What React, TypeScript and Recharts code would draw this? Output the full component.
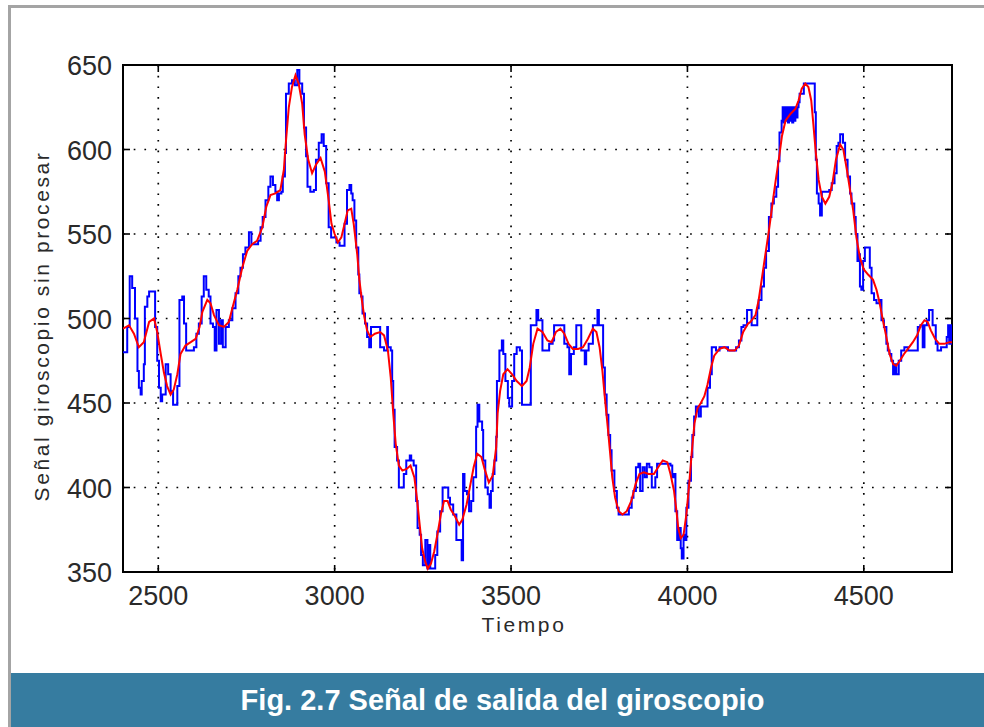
import React from "react";
import {
  LineChart,
  Line,
  XAxis,
  YAxis,
  CartesianGrid,
  ReferenceArea,
} from "recharts";

// Raw gyroscope reading (quantised, drawn as a staircase)
const rawTime = [
  2400, 2412, 2419, 2426, 2434, 2441, 2445, 2450, 2453, 2459, 2462, 2469, 2474, 2491, 2497, 2502,
  2507, 2511, 2521, 2528, 2535, 2542, 2554, 2560, 2568, 2573, 2579, 2601, 2608, 2615, 2623, 2629,
  2636, 2643, 2648, 2655, 2660, 2665, 2672, 2678, 2683, 2691, 2700, 2710, 2719, 2727, 2733, 2740,
  2747, 2757, 2764, 2783, 2790, 2796, 2804, 2812, 2818, 2825, 2832, 2837, 2842, 2849, 2853, 2859,
  2862, 2870, 2879, 2887, 2894, 2900, 2908, 2913, 2919, 2923, 2931, 2941, 2947, 2955, 2963, 2969,
  2976, 2983, 2990, 3005, 3014, 3028, 3035, 3042, 3047, 3051, 3056, 3061, 3067, 3070, 3075, 3079,
  3086, 3092, 3098, 3103, 3121, 3129, 3140, 3149, 3151, 3159, 3163, 3166, 3170, 3177, 3182, 3196,
  3203, 3213, 3217, 3224, 3231, 3235, 3241, 3245, 3250, 3257, 3263, 3267, 3271, 3285, 3291, 3299,
  3306, 3322, 3327, 3336, 3345, 3360, 3364, 3368, 3375, 3381, 3387, 3393, 3401, 3405, 3410, 3418,
  3421, 3427, 3434, 3439, 3443, 3448, 3453, 3458, 3460, 3467, 3474, 3478, 3484, 3491, 3495, 3503,
  3509, 3516, 3525, 3531, 3556, 3572, 3577, 3589, 3608, 3618, 3622, 3651, 3660, 3665, 3670, 3678,
  3685, 3699, 3709, 3713, 3720, 3732, 3745, 3749, 3761, 3766, 3771, 3776, 3781, 3785, 3793, 3800,
  3805, 3834, 3842, 3847, 3854, 3861, 3866, 3873, 3879, 3885, 3892, 3899, 3909, 3914, 3952, 3957,
  3961, 3966, 3971, 3976, 3981, 3984, 3989, 3993, 3997, 4003, 4010, 4014, 4019, 4024, 4032, 4038,
  4057, 4064, 4069, 4081, 4091, 4115, 4138, 4146, 4153, 4159, 4169, 4182, 4198, 4202, 4210, 4217,
  4223, 4231, 4238, 4245, 4252, 4257, 4261, 4267, 4270, 4273, 4276, 4279, 4282, 4285, 4288, 4291,
  4294, 4297, 4300, 4303, 4306, 4309, 4312, 4315, 4318, 4330, 4361, 4364, 4367, 4372, 4376, 4381,
  4402, 4409, 4417, 4423, 4428, 4433, 4441, 4447, 4454, 4461, 4465, 4473, 4477, 4482, 4486, 4489,
  4493, 4498, 4503, 4517, 4522, 4529, 4536, 4545, 4550, 4557, 4564, 4568, 4573, 4578, 4583, 4587,
  4592, 4599, 4606, 4615, 4625, 4653, 4660, 4667, 4672, 4679, 4685, 4695, 4704, 4709, 4719, 4735,
  4739, 4742, 4745, 4748, 4750,
];
const rawValue = [
  480, 495, 525, 518, 500, 469, 459, 455, 463, 473, 507, 513, 516, 495, 475, 459,
  451, 455, 473, 467, 457, 449, 460, 511, 513, 497, 481, 483, 491, 497, 513, 525,
  517, 513, 497, 495, 481, 505, 485, 499, 483, 495, 499, 506, 515, 525, 530, 538,
  542, 551, 544, 546, 554, 560, 570, 578, 584, 579, 575, 570, 574, 575, 584, 598,
  633, 639, 641, 638, 647, 639, 633, 613, 596, 578, 575, 576, 594, 604, 609, 602,
  580, 554, 548, 545, 543, 556, 576, 579, 574, 570, 558, 542, 526, 515, 513, 503,
  497, 489, 483, 495, 495, 483, 481, 495, 483, 481, 463, 446, 424, 416, 400, 408,
  416, 419, 416, 413, 392, 376, 372, 360, 354, 369, 352, 366, 352, 360, 374, 386,
  400, 394, 390, 384, 369, 357, 408, 398, 396, 386, 392, 406, 436, 449, 439, 434,
  416, 400, 396, 388, 398, 408, 416, 430, 463, 481, 487, 479, 463, 453, 448, 463,
  479, 483, 481, 449, 496, 505, 499, 481, 485, 487, 496, 485, 483, 467, 479, 483,
  496, 481, 473, 481, 485, 496, 505, 496, 471, 455, 443, 431, 422, 410, 398, 388,
  384, 388, 394, 398, 412, 414, 398, 412, 406, 414, 412, 400, 406, 414, 413, 406,
  408, 386, 369, 376, 364, 358, 372, 369, 388, 404, 418, 431, 442, 448, 442, 448,
  459, 467, 483, 481, 483, 481, 483, 487, 495, 496, 505, 496, 506, 511, 519, 530,
  540, 560, 568, 572, 578, 593, 610, 617, 625, 616, 625, 617, 625, 616, 625, 617,
  625, 616, 625, 617, 625, 619, 625, 628, 633, 639, 622, 594, 574, 568, 561, 575,
  576, 580, 586, 602, 604, 609, 604, 594, 584, 574, 568, 560, 550, 534, 538, 519,
  517, 534, 542, 530, 515, 511, 509, 511, 499, 495, 485, 481, 479, 475, 467, 473,
  467, 475, 481, 483, 481, 495, 496, 483, 496, 499, 505, 496, 485, 481, 483, 489,
  496, 485, 496, 485, 495,
];

// Filtered signal
const filtTime = [
  2400, 2417, 2431, 2445, 2459, 2474, 2488, 2497, 2507, 2516, 2525, 2535, 2544, 2554, 2563, 2577,
  2592, 2606, 2617, 2625, 2639, 2648, 2658, 2672, 2686, 2700, 2710, 2724, 2738, 2752, 2766, 2780,
  2795, 2806, 2818, 2832, 2846, 2856, 2862, 2870, 2879, 2889, 2898, 2908, 2915, 2925, 2936, 2947,
  2960, 2972, 2983, 2991, 3000, 3009, 3019, 3028, 3037, 3047, 3054, 3064, 3070, 3077, 3084, 3092,
  3101, 3114, 3129, 3140, 3151, 3159, 3166, 3173, 3182, 3192, 3204, 3215, 3226, 3233, 3241, 3248,
  3257, 3264, 3273, 3282, 3292, 3301, 3310, 3320, 3329, 3341, 3353, 3362, 3374, 3385, 3394, 3404,
  3416, 3425, 3437, 3448, 3458, 3462, 3469, 3478, 3490, 3503, 3516, 3531, 3544, 3553, 3563, 3575,
  3589, 3603, 3615, 3627, 3640, 3651, 3663, 3675, 3690, 3704, 3718, 3732, 3742, 3751, 3759, 3766,
  3774, 3781, 3787, 3795, 3805, 3816, 3828, 3841, 3853, 3864, 3876, 3890, 3905, 3917, 3930, 3943,
  3952, 3962, 3969, 3974, 3981, 3989, 3997, 4005, 4012, 4020, 4029, 4038, 4048, 4057, 4067, 4076,
  4091, 4105, 4119, 4134, 4146, 4158, 4172, 4179, 4193, 4202, 4212, 4221, 4231, 4240, 4249, 4259,
  4268, 4278, 4292, 4306, 4315, 4324, 4334, 4343, 4351, 4357, 4364, 4372, 4381, 4391, 4402, 4411,
  4421, 4433, 4442, 4452, 4461, 4470, 4479, 4489, 4500, 4512, 4526, 4536, 4545, 4554, 4564, 4573,
  4583, 4592, 4602, 4614, 4625, 4639, 4651, 4662, 4672, 4681, 4690, 4702, 4714, 4728, 4743, 4750,
];
const filtValue = [
  494, 496, 491, 483, 486, 498, 500, 492, 479, 468, 460, 455, 458, 467, 479, 484,
  486, 488, 495, 504, 511, 509, 502, 496, 495, 498, 506, 517, 530, 540, 544, 546,
  554, 566, 573, 574, 576, 588, 605, 625, 637, 644, 639, 627, 609, 594, 586, 591,
  595, 587, 570, 556, 550, 545, 548, 556, 564, 565, 556, 538, 523, 511, 501, 493,
  489, 491, 492, 490, 481, 465, 444, 426, 413, 410, 411, 413, 406, 394, 378, 364,
  356, 352, 355, 362, 373, 384, 392, 392, 387, 383, 378, 381, 390, 402, 412, 420,
  418, 411, 403, 407, 424, 444, 457, 467, 470, 467, 463, 460, 463, 471, 485, 494,
  492, 487, 486, 492, 494, 491, 485, 482, 482, 483, 488, 494, 492, 483, 469, 453,
  436, 420, 406, 394, 386, 384, 386, 392, 402, 408, 409, 408, 408, 412, 416, 415,
  408, 398, 386, 376, 370, 372, 384, 402, 420, 438, 447, 450, 454, 461, 471, 478,
  482, 483, 481, 481, 484, 492, 497, 498, 502, 511, 525, 538, 552, 566, 580, 594,
  608, 617, 621, 624, 629, 636, 639, 637, 629, 615, 598, 582, 572, 568, 572, 580,
  594, 603, 600, 588, 576, 564, 548, 536, 529, 526, 523, 517, 509, 499, 489, 479,
  473, 472, 475, 479, 482, 486, 490, 496, 499, 498, 493, 488, 485, 485, 486, 486,
];

const timeTicks = [2500, 3000, 3500, 4000, 4500];
const signalTicks = [350, 400, 450, 500, 550, 600, 650];

const rawSeries = rawTime.map((t, i) => ({ t, v: rawValue[i] }));
const filtSeries = filtTime.map((t, i) => ({ t, v: filtValue[i] }));

const W = 984;
const H = 672;
const X_AXIS_H = 40;
const Y_AXIS_W = 60;
const PLOT_TOP = 65;
const PLOT_BOTTOM = 572;
const PLOT_LEFT = 123;
const PLOT_RIGHT = 952;
const M = {
  top: PLOT_TOP,
  right: W - PLOT_RIGHT,
  bottom: H - PLOT_BOTTOM - X_AXIS_H,
  left: PLOT_LEFT - Y_AXIS_W,
};
const TICK_LEN = 7;
const FONT = "'Liberation Sans', Arial, Helvetica, sans-serif";
const TEXT_COLOR = "#2a2a2a";

const TimeTick = (props: any) => {
  const { x, payload } = props;
  return (
    <g>
      <line x1={x} x2={x} y1={PLOT_BOTTOM} y2={PLOT_BOTTOM - TICK_LEN} stroke="#000" strokeWidth={1.6} />
      <line x1={x} x2={x} y1={PLOT_TOP} y2={PLOT_TOP + TICK_LEN} stroke="#000" strokeWidth={1.6} />
      <text x={x} y={605} textAnchor="middle" fontSize={27} fontFamily={FONT} fill={TEXT_COLOR}>
        {payload.value}
      </text>
    </g>
  );
};

const SignalTick = (props: any) => {
  const { y, payload } = props;
  return (
    <g>
      <line x1={PLOT_LEFT} x2={PLOT_LEFT + TICK_LEN} y1={y} y2={y} stroke="#000" strokeWidth={1.6} />
      <line x1={PLOT_RIGHT} x2={PLOT_RIGHT - TICK_LEN} y1={y} y2={y} stroke="#000" strokeWidth={1.6} />
      <text x={112} y={y + 10} textAnchor="end" fontSize={27} fontFamily={FONT} fill={TEXT_COLOR}>
        {payload.value}
      </text>
    </g>
  );
};

export default function App() {
  return (
    <div
      style={{
        position: "absolute",
        left: 0,
        top: 0,
        width: 984,
        height: 727,
        background: "#fff",
        overflow: "hidden",
        fontFamily: FONT,
      }}
    >
      <div
        style={{
          position: "absolute",
          left: 8,
          top: 5,
          right: 0,
          bottom: 0,
          borderTop: "3px solid #a4a4a4",
          borderLeft: "3px solid #a4a4a4",
        }}
      />
      <div style={{ position: "absolute", left: 0, top: 0 }}>
        <LineChart width={W} height={H} margin={M}>
          <CartesianGrid stroke="#000" strokeWidth={1.7} strokeDasharray="1.7 9" />
          <XAxis
            dataKey="t"
            type="number"
            domain={[2400, 4750]}
            ticks={timeTicks}
            interval={0}
            allowDataOverflow
            height={X_AXIS_H}
            axisLine={false}
            tickLine={false}
            tick={<TimeTick />}
          />
          <YAxis
            type="number"
            domain={[350, 650]}
            ticks={signalTicks}
            interval={0}
            allowDataOverflow
            width={Y_AXIS_W}
            axisLine={false}
            tickLine={false}
            tick={<SignalTick />}
          />
          <ReferenceArea
            x1={2400}
            x2={4750}
            y1={350}
            y2={650}
            fill="none"
            fillOpacity={0}
            stroke="#000"
            strokeWidth={2}
            ifOverflow="visible"
          />
          <Line
            data={rawSeries}
            dataKey="v"
            type="stepAfter"
            stroke="#0000ff"
            strokeWidth={2}
            dot={false}
            activeDot={false}
            isAnimationActive={false}
          />
          <Line
            data={filtSeries}
            dataKey="v"
            type="linear"
            stroke="#ff0000"
            strokeWidth={2}
            dot={false}
            activeDot={false}
            isAnimationActive={false}
          />
        </LineChart>
      </div>
      <div
        style={{
          position: "absolute",
          left: 41,
          top: 326,
          transform: "translate(-50%, -50%) rotate(-90deg)",
          whiteSpace: "nowrap",
          fontSize: 21,
          letterSpacing: "2.6px",
          color: TEXT_COLOR,
          lineHeight: "21px",
        }}
      >
        Señal giroscopio sin procesar
      </div>
      <div
        style={{
          position: "absolute",
          left: 524,
          top: 614,
          transform: "translateX(-50%)",
          whiteSpace: "nowrap",
          fontSize: 21,
          letterSpacing: "2.6px",
          color: TEXT_COLOR,
          lineHeight: "21px",
        }}
      >
        Tiempo
      </div>
      <div
        style={{
          position: "absolute",
          left: 11,
          top: 673,
          right: 0,
          height: 54,
          background: "#367ca0",
          color: "#fff",
          fontWeight: "bold",
          fontSize: 29,
          display: "flex",
          alignItems: "center",
          justifyContent: "center",
          paddingLeft: 10,
          boxSizing: "border-box",
        }}
      >
        Fig. 2.7 Señal de salida del giroscopio
      </div>
    </div>
  );
}
